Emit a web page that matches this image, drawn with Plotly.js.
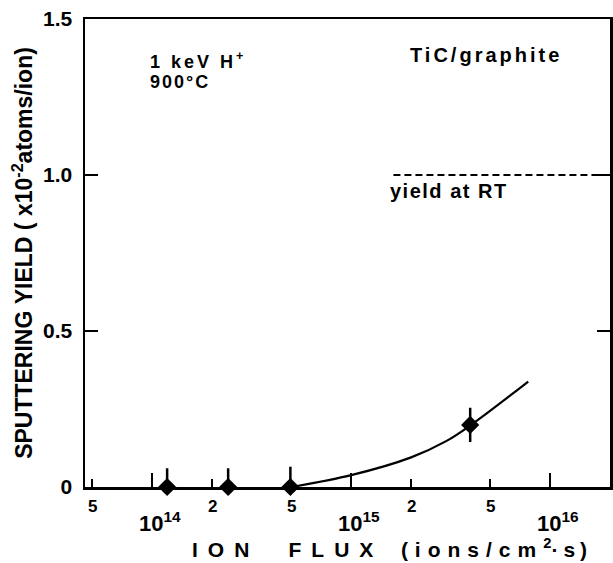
<!DOCTYPE html>
<html>
<head>
<meta charset="utf-8">
<script src="https://cdn.plot.ly/plotly-3.0.1.min.js"></script>
<style>html,body{margin:0;padding:0;background:#fff;}#chart{width:613px;height:563px;}</style>
</head>
<body>
<div id="chart"></div>
<script>
// measured points (ion flux in ions/cm^2 s, yield in 1e-2 atoms/ion)
var fluxX = [1.19e14, 2.41e14, 4.95e14, 3.96e15];
var yieldY = [0, 0, 0, 0.199];
var yieldErr = [0.06, 0.06, 0.065, 0.055];
// fitted curve
var curveX = [5e14, 1e15, 2e15, 3e15, 4e15, 7.75e15];
var curveY = [0, 0.038, 0.095, 0.147, 0.199, 0.338];
// yield at room temperature reference line
var rtX = [1.63e15, 2e16];
var rtY = [1.0, 1.0];
// tick labels
var yTickVals = [0, 0.5, 1.0, 1.5];
var yTickText = ["0", "0.5", "1.0", "1.5"];
var xMajorVals = [1e14, 1e15, 1e16];
var xMajorText = ["10<sup>14</sup>", "10<sup>15</sup>", "10<sup>16</sup>"];
var xMinorVals = [5e13, 2e14, 5e14, 2e15, 5e15, 2e16];
var xMinorText = ["5", "2", "5", "2", "5", "2"];

var FONT = "Liberation Sans, Arial, sans-serif";
var NB = "\u00A0";
function ls(t, px) { return '<span style="letter-spacing:' + px + 'px">' + t + '</span>'; }
function nb(n) { return new Array(n + 1).join(NB); }

var traces = [
  {x: curveX, y: curveY, type: "scatter", mode: "lines", line: {color: "#000", width: 2.2, shape: "spline", smoothing: 1}, hoverinfo: "skip"},
  {x: rtX, y: rtY, type: "scatter", mode: "lines", line: {color: "#000", width: 2, dash: "7px,4px"}, hoverinfo: "skip"},
  {x: fluxX, y: yieldY, type: "scatter", mode: "markers", cliponaxis: false,
   marker: {symbol: "diamond", size: 14, color: "#000"},
   error_y: {type: "data", array: yieldErr, visible: true, color: "#000", thickness: 2.5, width: 0}}
];

var annotations = [];
xMajorVals.forEach(function (v, i) {
  annotations.push({x: Math.log10(v), y: 0, xref: "x", yref: "paper", yshift: -35, xshift: 8, yanchor: "middle", xanchor: "center",
    text: xMajorText[i], showarrow: false, font: {family: FONT, size: 22, color: "#000", weight: "bold"}});
});
xMinorVals.forEach(function (v, i) {
  annotations.push({x: Math.log10(v), y: 0, xref: "x", yref: "paper", yshift: -19, yanchor: "middle", xanchor: "center",
    text: xMinorText[i], showarrow: false, font: {family: FONT, size: 17, color: "#000", weight: "bold"}});
});
annotations.push(
  {x: 0.12, y: 0.912, xref: "paper", yref: "paper", xanchor: "left", yanchor: "middle", showarrow: false,
   text: ls("1" + NB + "keV" + NB + "H", 3) + "<sup>+</sup>", font: {family: FONT, size: 18, color: "#000", weight: "bold"}},
  {x: 0.12, y: 0.866, xref: "paper", yref: "paper", xanchor: "left", yanchor: "middle", showarrow: false,
   text: ls("900°C", 2), font: {family: FONT, size: 18, color: "#000", weight: "bold"}},
  {x: 0.615, y: 0.923, xref: "paper", yref: "paper", xanchor: "left", yanchor: "middle", showarrow: false,
   text: ls("TiC/graphite", 3), font: {family: FONT, size: 20, color: "#000", weight: "bold"}},
  {x: 0.577, y: 0.632, xref: "paper", yref: "paper", xanchor: "left", yanchor: "middle", showarrow: false,
   text: ls("yield at RT", 1.5), font: {family: FONT, size: 20, color: "#000", weight: "bold"}},
  // x axis title
  {x: 0.2, y: -0.130, xref: "paper", yref: "paper", xanchor: "left", yanchor: "middle", showarrow: false,
   text: ls("ION", 10) + nb(5) + ls("FLUX", 10) + nb(3) + ls("(ions/cm", 7) + "<sup>2</sup>" + ls("·s)", 5),
   font: {family: FONT, size: 21, color: "#000", weight: "bold"}}
);

var layout = {
  width: 613, height: 563,
  margin: {l: 85, r: 3, t: 19, b: 76},
  paper_bgcolor: "#fff", plot_bgcolor: "#fff",
  showlegend: false,
  font: {family: FONT, color: "#000"},
  xaxis: {
    type: "log", range: [13.663, 16.30],
    showline: true, mirror: true, linecolor: "#000", linewidth: 2.5,
    showgrid: false, zeroline: false,
    ticks: "inside", ticklen: 14, tickwidth: 2, tickcolor: "#000",
    tickmode: "array", tickvals: xMajorVals, showticklabels: false,
    minor: {tickmode: "array", tickvals: xMinorVals, ticks: "inside", ticklen: 8, tickwidth: 2, tickcolor: "#000", showgrid: false}
  },
  yaxis: {
    range: [0, 1.5],
    showline: true, mirror: "ticks", linecolor: "#000", linewidth: 2.5,
    showgrid: false, zeroline: false,
    ticks: "inside", ticklen: 13, tickwidth: 2, tickcolor: "#000",
    tickmode: "array", tickvals: yTickVals, ticktext: yTickText,
    tickfont: {family: FONT, size: 21, color: "#000", weight: "bold"},
    ticklabelstandoff: 6,
    title: {text: "SPUTTERING" + NB + "YIELD" + NB + "(" + NB + "x10<sup>-2</sup>atoms/ion)",
            font: {family: FONT, size: 23, color: "#000", weight: "bold"}, standoff: 4}
  },
  annotations: annotations
};

Plotly.newPlot("chart", traces, layout, {displayModeBar: false, staticPlot: true});
</script>
</body>
</html>
